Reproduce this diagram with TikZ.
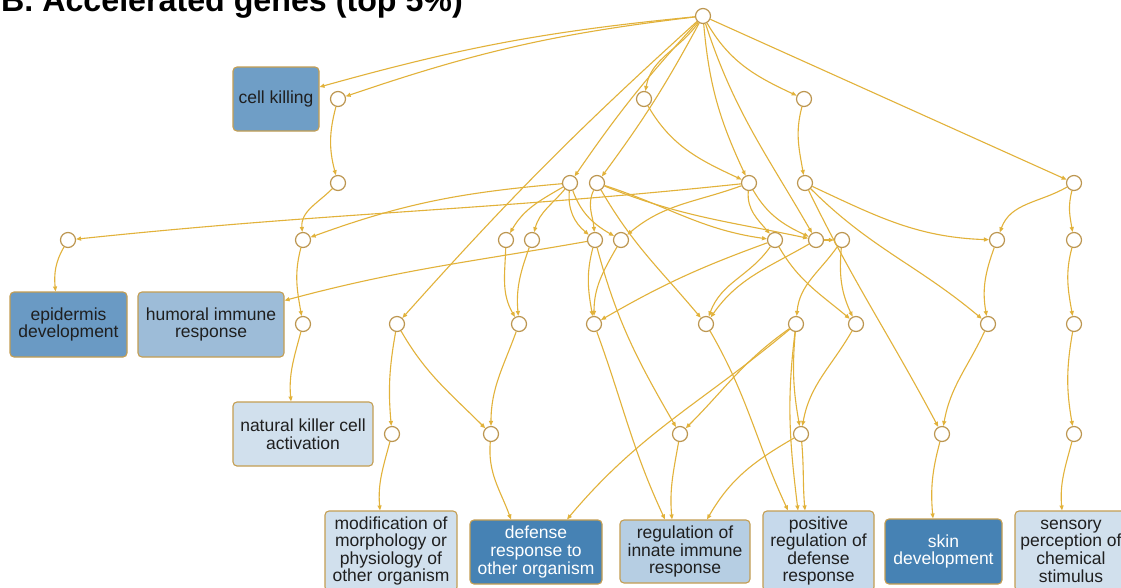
\documentclass[tikz,border=0pt]{standalone}
\usepackage{fontspec}
\setmainfont{Liberation Sans}
\usetikzlibrary{arrows.meta}

\definecolor{edgegold}{RGB}{226,178,58}
\definecolor{ringgold}{RGB}{188,150,80}
\definecolor{boxline}{RGB}{196,158,82}
\definecolor{termA}{RGB}{111,158,198}
\definecolor{termB}{RGB}{106,154,196}
\definecolor{termC}{RGB}{157,188,216}
\definecolor{termD}{RGB}{209,224,237}
\definecolor{termE}{RGB}{70,130,180}
\definecolor{termF}{RGB}{182,206,227}
\definecolor{termG}{RGB}{198,217,235}

\tikzset{
  hub/.style={circle, draw=ringgold, fill=white, line width=1.2pt, minimum size=15pt, inner sep=0pt},
  term/.style={draw=boxline, line width=1.1pt, rounded corners=4pt, inner sep=0pt, align=center,
               font=\fontsize{17.5}{17.6}\selectfont, text=black!88},
  link/.style={draw=edgegold, line width=1.1pt, -{Triangle[length=5pt,width=4pt]}},
}

\begin{document}
\begin{tikzpicture}[x=1pt,y=1pt]
\clip (0,0) rectangle (1121,-587);
\fill[white] (0,0) rectangle (1121,-587);

% title
\node[anchor=base west, inner sep=0pt, font=\bfseries\fontsize{32.2}{33}\selectfont] (title) at (1,-11) {B. Accelerated genes (top 5\%)};

% hub circles, rank by rank
\node[hub] (R)  at (703,-16) {};
\node[hub] (c1) at (338,-99) {};
\node[hub] (c2) at (644,-99) {};
\node[hub] (c3) at (804,-99) {};
\node[hub] (d1) at (338,-183) {};
\node[hub] (d2) at (570,-183) {};
\node[hub] (d3) at (597,-183) {};
\node[hub] (d4) at (749,-183) {};
\node[hub] (d5) at (805,-183) {};
\node[hub] (d6) at (1074,-183) {};
\node[hub] (e1) at (68,-240) {};
\node[hub] (e2) at (303,-240) {};
\node[hub] (e3) at (506,-240) {};
\node[hub] (e4) at (532,-240) {};
\node[hub] (e5) at (595,-240) {};
\node[hub] (e6) at (621,-240) {};
\node[hub] (e7) at (775,-240) {};
\node[hub] (e8) at (816,-240) {};
\node[hub] (e9) at (842,-240) {};
\node[hub] (e10) at (997,-240) {};
\node[hub] (e11) at (1074,-240) {};
\node[hub] (f1) at (303,-324) {};
\node[hub] (f2) at (397,-324) {};
\node[hub] (f3) at (519,-324) {};
\node[hub] (f4) at (594,-324) {};
\node[hub] (f5) at (706,-324) {};
\node[hub] (f6) at (796,-324) {};
\node[hub] (f7) at (856,-324) {};
\node[hub] (f8) at (988,-324) {};
\node[hub] (f9) at (1074,-324) {};
\node[hub] (g1) at (392,-434) {};
\node[hub] (g2) at (491,-434) {};
\node[hub] (g3) at (680,-434) {};
\node[hub] (g4) at (801,-434) {};
\node[hub] (g5) at (942,-434) {};
\node[hub] (g6) at (1074,-434) {};

% term boxes
\node[term, fill=termA, minimum width=86pt,  minimum height=64pt] (ck)   at (276,-99)    {cell killing};
\node[term, fill=termB, minimum width=117pt, minimum height=65pt] (epi)  at (68.5,-324.5) {epidermis\\development};
\node[term, fill=termC, minimum width=146pt, minimum height=65pt] (hum)  at (211,-324.5)  {humoral immune\\response};
\node[term, fill=termD, minimum width=140pt, minimum height=64pt] (nk)   at (303,-434)    {natural killer cell\\activation};
\node[term, fill=termD, minimum width=132pt, minimum height=80pt] (mod)  at (391,-551)    {modification of\\morphology or\\physiology of\\other organism};
\node[term, fill=termE, text=white, minimum width=132pt, minimum height=64pt] (def) at (536,-552) {defense\\response to\\other organism};
\node[term, fill=termF, minimum width=130pt, minimum height=63pt] (rii)  at (685,-551.5) {regulation of\\innate immune\\response};
\node[term, fill=termG, minimum width=111pt, minimum height=80pt] (prd)  at (818.5,-551)  {positive\\regulation of\\defense\\response};
\node[term, fill=termE, text=white, minimum width=117pt, minimum height=65pt] (skin) at (943.5,-551.5) {skin\\development};
\node[term, fill=termD, minimum width=112pt, minimum height=80pt] (sens) at (1071,-551)   {sensory\\perception of\\chemical\\stimulus};

% connectors out of the root
\draw[link] (R) to[bend right=5] ([yshift=12pt]ck.east);
\draw[link] (R) to[bend right=6] (c1);
\draw[link] (R) to[out=-125,in=80] (c2);
\draw[link] (R) to[out=-60,in=155] (c3);
\draw[link] (R) -- (d6);
\draw[link] (R) to[out=-85,in=115] (d4);
\draw[link] (R) to[out=-72,in=120] (e8);
\draw[link] (R) to[bend right=4] (d2);
\draw[link] (R) to[bend left=4] (d3);
\draw[link] (R) to[bend right=3] (f2);

% second rank
\draw[link] (c1) to[out=-105,in=105] (d1);
\draw[link] (c2) to[out=-60,in=155] (d4);
\draw[link] (c3) to[out=-105,in=100] (d5);

% third rank
\draw[link] (d1) to[out=-135,in=95] (e2);
\draw[link] (d2) to[out=185,in=20] (e2);
\draw[link] (d4) to[out=186,in=6] (e1);
\draw[link] (d2) to[out=-150,in=60] (e3);
\draw[link] (d2) to[out=-130,in=75] (e4);
\draw[link] (d2) to[out=-95,in=140] (e5);
\draw[link] (d2) to[out=-70,in=150] (e6);
\draw[link] (d3) to[out=-115,in=95] (e5);
\draw[link] (d3) to[out=-18,in=172] (e7);
\draw[link] (d3) to[out=-22,in=168] (e8);
\draw[link] (d3) to[out=-60,in=130] (f5);
\draw[link] (d4) to[out=200,in=40] (e6);
\draw[link] (d4) to[out=-95,in=130] (e7);
\draw[link] (d4) to[out=-60,in=155] (e8);
\draw[link] (d5) to[out=-25,in=178] (e10);
\draw[link] (d5) to[out=-45,in=140] (f8);
\draw[link] (d5) to[out=-64,in=118] (g5);
\draw[link] (d6) to[out=-150,in=70] (e10);
\draw[link] (d6) to[out=-105,in=100] (e11);

% fourth rank
\draw[link] (e1) to[out=-120,in=95] ([xshift=-13pt]epi.north);
\draw[link] (e2) to[out=-105,in=100] (f1);
\draw[link] (e3) to[out=-92,in=120] (f3);
\draw[link] (e4) to[out=-110,in=95] (f3);
\draw[link] (e5) to[out=190,in=15] ([yshift=24pt]hum.east);
\draw[link] (e5) to[out=-105,in=100] (f4);
\draw[link] (e6) to[out=-120,in=90] (f4);
\draw[link] (e7) to[out=200,in=30] (f4);
\draw[link] (e5) to[out=-75,in=120] (g3);
\draw[link] (e7) to[out=-125,in=70] (f5);
\draw[link] (e8) to[out=-150,in=55] (f5);
\draw[link] (e7) to[out=-60,in=140] (f7);
\draw[link] (e8) -- (e9);
\draw[link] (e9) to[out=-125,in=85] (f6);
\draw[link] (e9) to[out=-95,in=115] (f7);
\draw[link] (e10) to[out=-110,in=100] (f8);
\draw[link] (e11) to[out=-105,in=100] (f9);

% fifth rank
\draw[link] (f1) to[out=-105,in=95] ([xshift=-12pt]nk.north);
\draw[link] (f2) to[out=-100,in=95] (g1);
\draw[link] (f2) to[out=-60,in=135] (g2);
\draw[link] (f3) to[out=-110,in=90] (g2);
\draw[link] (f6) to[out=215,in=45] (g3);
\draw[link] (f6) to[out=-95,in=100] (g4);
\draw[link] (f7) to[out=-120,in=80] (g4);
\draw[link] (f8) to[out=-115,in=80] (g5);
\draw[link] (f9) to[out=-100,in=100] (g6);

% into the bottom terms
\draw[link] (g1) to[out=-105,in=95] ([xshift=-11pt]mod.north);
\draw[link] (g2) to[out=-95,in=110] ([xshift=-25pt]def.north);
\draw[link] (f6) to[out=220,in=50] ([xshift=31pt]def.north);
\draw[link] (f4) to[out=-70,in=115] ([xshift=-20pt]rii.north);
\draw[link] (g3) to[out=-100,in=95] ([xshift=-13pt]rii.north);
\draw[link] (g4) to[out=210,in=60] ([xshift=22pt]rii.north);
\draw[link] (f5) to[out=-60,in=115] ([xshift=-30.5pt]prd.north);
\draw[link] (f6) to[out=-97,in=97] ([xshift=-20.5pt]prd.north);
\draw[link] (g4) to[out=-85,in=95] ([xshift=-13.5pt]prd.north);
\draw[link] (g5) to[out=-105,in=95] ([xshift=-10.5pt]skin.north);
\draw[link] (g6) to[out=-105,in=95] ([xshift=-9pt]sens.north);
\end{tikzpicture}
\end{document}
